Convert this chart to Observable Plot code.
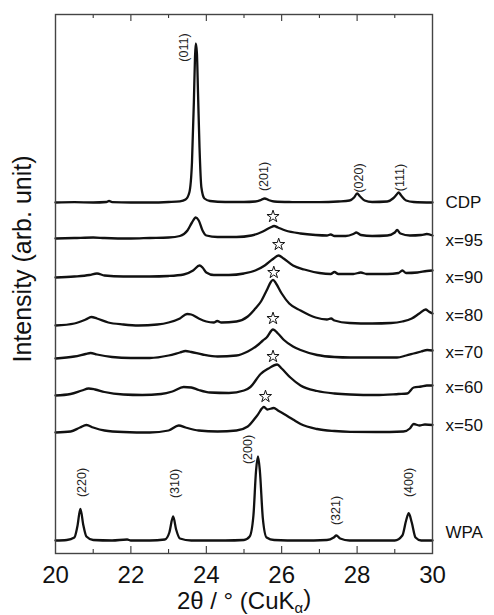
<!DOCTYPE html>
<html>
<head>
<meta charset="utf-8">
<script src="https://cdn.jsdelivr.net/npm/d3@7"></script>
<script src="https://cdn.jsdelivr.net/npm/@observablehq/plot@0.6"></script>
<style>
  html, body { margin: 0; padding: 0; background: #fff; }
  svg { overflow: visible; }
</style>
</head>
<body>
<div id="chart"></div>
<script>
// ---- Data (2θ in degrees, intensity in arbitrary units above each trace's baseline) ----
const seriesNames = ["CDP", "x=95", "x=90", "x=80", "x=70", "x=60", "x=50", "WPA"];
const seriesOffsets = [351, 315, 276, 228, 195, 158, 121, 13];

const cdp = [[20,0],[20.5,0.3],[21,0],[21.35,0.5],[21.42,1.5],[21.5,0.3],[22,0],[22.5,0],[23,0.5],[23.3,1.2],[23.45,3],[23.55,10],[23.62,40],[23.67,100],[23.7,145],[23.72,159],[23.75,150],[23.78,110],[23.82,55],[23.87,15],[23.95,4],[24.1,1.5],[24.5,0.5],[25,0.5],[25.3,1],[25.45,2.5],[25.55,4],[25.65,2.5],[25.8,1],[26.2,0.5],[27,0.3],[27.5,1],[27.8,2],[27.92,5],[28,9],[28.08,6],[28.2,2],[28.4,0.5],[28.8,1],[28.95,4],[29.05,8],[29.1,10],[29.17,7],[29.3,2],[29.5,0.5],[30,0]];
const x95 = [[20,0],[20.5,0.5],[21,1],[21.3,0.5],[22,0],[22.5,0.5],[23,1],[23.3,2.5],[23.5,8],[23.62,16],[23.72,21],[23.8,18],[23.9,8],[24,3],[24.3,1.5],[24.8,1.5],[25.2,3],[25.5,7],[25.7,11],[25.8,12.5],[25.9,11],[26.1,8],[26.5,5],[26.9,3.5],[27.2,3],[27.3,4],[27.4,2.5],[27.7,2.5],[27.9,4.5],[27.98,6],[28.1,3.5],[28.4,2.5],[28.8,3],[29,6],[29.06,8.5],[29.15,5],[29.4,3],[29.7,3.5],[29.85,4.5],[30,3]];
const x90 = [[20,0],[20.5,1],[20.9,2.5],[21.1,4],[21.3,2],[21.8,1],[22.5,1],[23,1.5],[23.4,3],[23.65,7],[23.82,12],[23.9,10],[24,5],[24.2,2.5],[24.6,2.5],[25,4],[25.3,7],[25.55,12],[25.75,18],[25.92,22],[26.05,19],[26.3,12],[26.6,8],[27,4.5],[27.3,3.5],[27.4,5.5],[27.5,3.5],[27.9,3.5],[28.1,5],[28.25,3.5],[28.8,3.5],[29.1,4.5],[29.2,7],[29.3,4.5],[29.6,5],[29.85,6.5],[30,7]];
const x80 = [[20,0],[20.5,2],[20.8,6],[20.95,8.5],[21.1,7],[21.4,3],[21.8,1],[22.2,0],[22.7,1],[23,3],[23.3,7],[23.49,11.5],[23.6,11],[23.8,7],[24,4],[24.2,3],[24.29,4.5],[24.4,3],[24.8,4],[25.1,9],[25.3,17],[25.45,24],[25.6,35],[25.72,44],[25.77,45.7],[25.85,42],[26,32],[26.2,22],[26.5,15],[26.9,8],[27.2,6],[27.31,7],[27.4,5],[27.8,2.5],[28.4,2],[28.9,2.5],[29.2,4],[29.45,7],[29.65,12],[29.82,16],[29.9,14],[30,12]];
const x70 = [[20,0],[20.5,2],[20.8,4.5],[20.93,5.5],[21.1,4],[21.5,1.5],[22,0.5],[22.5,0.5],[23,3],[23.3,6],[23.45,7.5],[23.6,6.5],[23.9,4],[24.3,2],[24.8,3],[25.1,7],[25.35,13],[25.5,18],[25.6,21],[25.77,29],[25.9,25],[26.06,18.5],[26.3,12],[26.5,8.5],[26.94,3.5],[27.4,1.5],[27.82,1],[28.5,1],[29.06,1],[29.3,3],[29.5,5],[29.7,7],[29.86,8.5],[30,8]];
const x60 = [[20,0],[20.4,1.5],[20.7,5],[20.88,7],[21.05,6],[21.3,3.5],[21.8,1],[22.3,0.5],[22.8,1.5],[23.1,4],[23.4,8.5],[23.6,8],[23.8,5.5],[24.1,3],[24.6,2.5],[25,5],[25.17,8.5],[25.44,21.5],[25.65,27],[25.88,31],[26,27],[26.23,18],[26.5,10],[26.94,4.5],[27.4,2],[27.82,1],[28.5,0.5],[29.1,1.5],[29.33,2],[29.5,8],[29.7,9],[29.85,10],[30,10]];
const x50 = [[20,0],[20.4,1],[20.65,5],[20.82,7.5],[21,5],[21.3,2],[21.8,0.5],[22.5,0],[23,2],[23.27,7],[23.45,5],[23.8,2],[24.3,1],[24.8,2],[25.1,6],[25.35,17],[25.53,25.5],[25.62,23],[25.79,24.5],[25.9,22],[26.06,18.5],[26.3,13],[26.5,8.5],[26.94,3.5],[27.4,1.5],[27.82,0.7],[28.5,0.5],[29.23,1],[29.4,4],[29.5,8.5],[29.65,7],[29.8,8],[30,7.5]];
const wpa = [[20,0],[20.3,0.5],[20.5,3],[20.58,14],[20.66,31.7],[20.74,15],[20.82,4],[21,0.5],[21.5,0],[21.9,1],[22,0],[22.5,0],[22.9,1],[23.02,8],[23.12,24],[23.2,11],[23.3,2],[23.6,0],[24.5,0],[25,0.5],[25.15,4],[25.25,25],[25.32,70],[25.37,84],[25.42,70],[25.5,22],[25.6,3],[25.8,0.5],[26.5,0],[27.2,0.5],[27.38,3],[27.45,5],[27.55,2],[27.8,0],[29,0],[29.2,5],[29.3,20],[29.37,27.3],[29.45,18],[29.55,3],[29.7,0],[30,0]];
const seriesPoints = [cdp, x95, x90, x80, x70, x60, x50, wpa];

// right-hand series labels (vertical position in the same stacked units)
const seriesLabelY = [351, 313, 276, 238, 201, 166, 127.5, 21];

// Miller-index annotations
const peakLabels = ["(011)", "(201)", "(020)", "(111)", "(220)", "(310)", "(200)", "(321)", "(400)"];
const peakLabelX = [23.4, 25.53, 28.05, 29.15, 20.7, 23.18, 25.11, 27.43, 29.37];
const peakLabelY = [506, 377, 375.5, 376, 71, 70, 104, 43, 71];

// star markers
const starX = [25.77, 25.92, 25.79, 25.77, 25.77, 25.57];
const starY = [337, 309, 281, 235, 197, 157];

const xTicks = [20, 22, 24, 26, 28, 30];
const xMinorTicks = [21, 23, 25, 27, 29];
const xTitle = "2θ / ° (CuKα)";
const yTitle = "Intensity (arb. unit)";

// ---- Build tables ----
const rows = [];
seriesNames.forEach((name, i) => {
  seriesPoints[i].forEach(([x, v]) => rows.push({series: name, x, y: seriesOffsets[i] + v}));
});
const labelRows = seriesNames.map((name, i) => ({name, y: seriesLabelY[i]}));
const peakRows = peakLabels.map((t, i) => ({t, x: peakLabelX[i], y: peakLabelY[i]}));
const starRows = starX.map((x, i) => ({x, y: starY[i]}));

const font = "'Liberation Sans', Arial, Helvetica, sans-serif";

const chart = Plot.plot({
  width: 494,
  height: 615,
  marginLeft: 55,
  marginRight: 62,
  marginTop: 14,
  marginBottom: 62,
  style: {fontFamily: font, background: "#fff", color: "#111"},
  x: {domain: [20, 30], axis: null},
  y: {domain: [0, 539], axis: null},
  marks: [
    Plot.line(rows, {x: "x", y: "y", z: "series", curve: "monotone-x", stroke: "#111", strokeWidth: 2.3, strokeLinejoin: "round"}),
    Plot.tickX(xTicks, {x: d => d, insetTop: 532, stroke: "#222"}),
    Plot.tickX(xMinorTicks, {x: d => d, insetTop: 535, stroke: "#222"}),
    Plot.tickX(xTicks, {x: d => d, insetBottom: 532, stroke: "#222"}),
    Plot.tickX(xMinorTicks, {x: d => d, insetBottom: 535, stroke: "#222"}),
    Plot.frame({stroke: "#444", strokeWidth: 1.4}),
    Plot.axisX({ticks: xTicks, tickSize: 0, tickPadding: 12, fontSize: 24, label: null, fill: "#111"}),
    Plot.text([xTitle], {frameAnchor: "bottom", text: d => d, dy: 55, lineAnchor: "bottom", fontSize: 24, fill: "#111"}),
    Plot.text([yTitle], {frameAnchor: "left", text: d => d, rotate: -90, textAnchor: "middle", lineAnchor: "middle", dx: -33, dy: -25, fontSize: 25, fill: "#111"}),
    Plot.text(peakRows, {x: "x", y: "y", text: "t", rotate: -90, fontSize: 12.5, fill: "#222"}),
    Plot.dot(starRows, {x: "x", y: "y", symbol: "star", r: 3.8, fill: "white", stroke: "#111", strokeWidth: 1}),
    Plot.text(labelRows, {frameAnchor: "right", y: "y", text: "name", textAnchor: "start", dx: 13, fontSize: 17, fill: "#111"})
  ]
});

// subscript alpha in the x-axis title
d3.select(chart).selectAll("text").filter(function () { return this.textContent === xTitle; })
  .each(function () {
    const t = d3.select(this);
    t.text(null);
    t.append("tspan").text("2θ / ° (CuK");
    t.append("tspan").attr("dy", "0.3em").attr("font-size", "0.62em").text("α");
    t.append("tspan").attr("dy", "-0.3em").text(")");
  });

document.getElementById("chart").appendChild(chart);
</script>
</body>
</html>
